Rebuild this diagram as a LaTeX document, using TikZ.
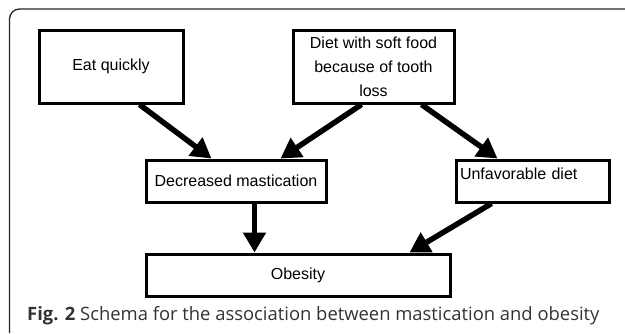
\documentclass[tikz,border=0pt]{standalone}
\usepackage{fontspec}
\setmainfont{Liberation Sans}
\newfontfamily\capfont{Open Sans}
\usetikzlibrary{arrows.meta,positioning}

\begin{document}
\begin{tikzpicture}[x=1pt,y=1pt,box/.style={draw,line width=3pt,minimum height=42pt,inner sep=0pt,font=\fontsize{16}{24}\selectfont},arr/.style={line width=5.5pt,-{Triangle[length=20pt,width=22pt]}}]
\useasboundingbox (0,0) rectangle (625,-333);
\draw[line width=1.3pt,black!85,rounded corners=10pt](9.5,-333)--(9.5,-9)--(625,-9);
\node(EQ)[box,minimum width=144pt,minimum height=73pt,anchor=north west] at (37.5,-28.5){Eat quickly};
\node(SF)[box,minimum width=161pt,minimum height=73pt,align=center,right=107pt of EQ]{Diet with soft food\\because of tooth\\loss};
\node(DM)[box,minimum width=180pt,below right=54pt and 107pt of EQ.south west]{Decreased mastication};
\node(UD)[box,text width=145pt,inner xsep=4pt,align=left,text height=19.5pt,text depth=22.5pt,right=127pt of DM]{Unfavorable diet};
\node(OB)[box,minimum width=304pt,below right=49pt and 0pt of DM.south west]{Obesity};
\draw[arr]([xshift=28.5pt]EQ.south)--([xshift=-24.5pt]DM.north);
\draw[arr]([xshift=-12pt]SF.south)--([xshift=44.5pt]DM.north);
\draw[arr]([xshift=48pt]SF.south)--([xshift=-35pt]UD.north);
\draw[arr]([xshift=18.5pt]DM.south)--([xshift=-43.5pt]OB.north);
\draw[arr]([xshift=-41pt]UD.south)--([xshift=111.5pt]OB.north);
\node(CAP)[anchor=base west,inner sep=0pt,font=\capfont\fontsize{18.4}{22}\selectfont,text=black!80] at (27,-320){\textbf{Fig. 2} Schema for the association between mastication and obesity};
\end{tikzpicture}
\end{document}
